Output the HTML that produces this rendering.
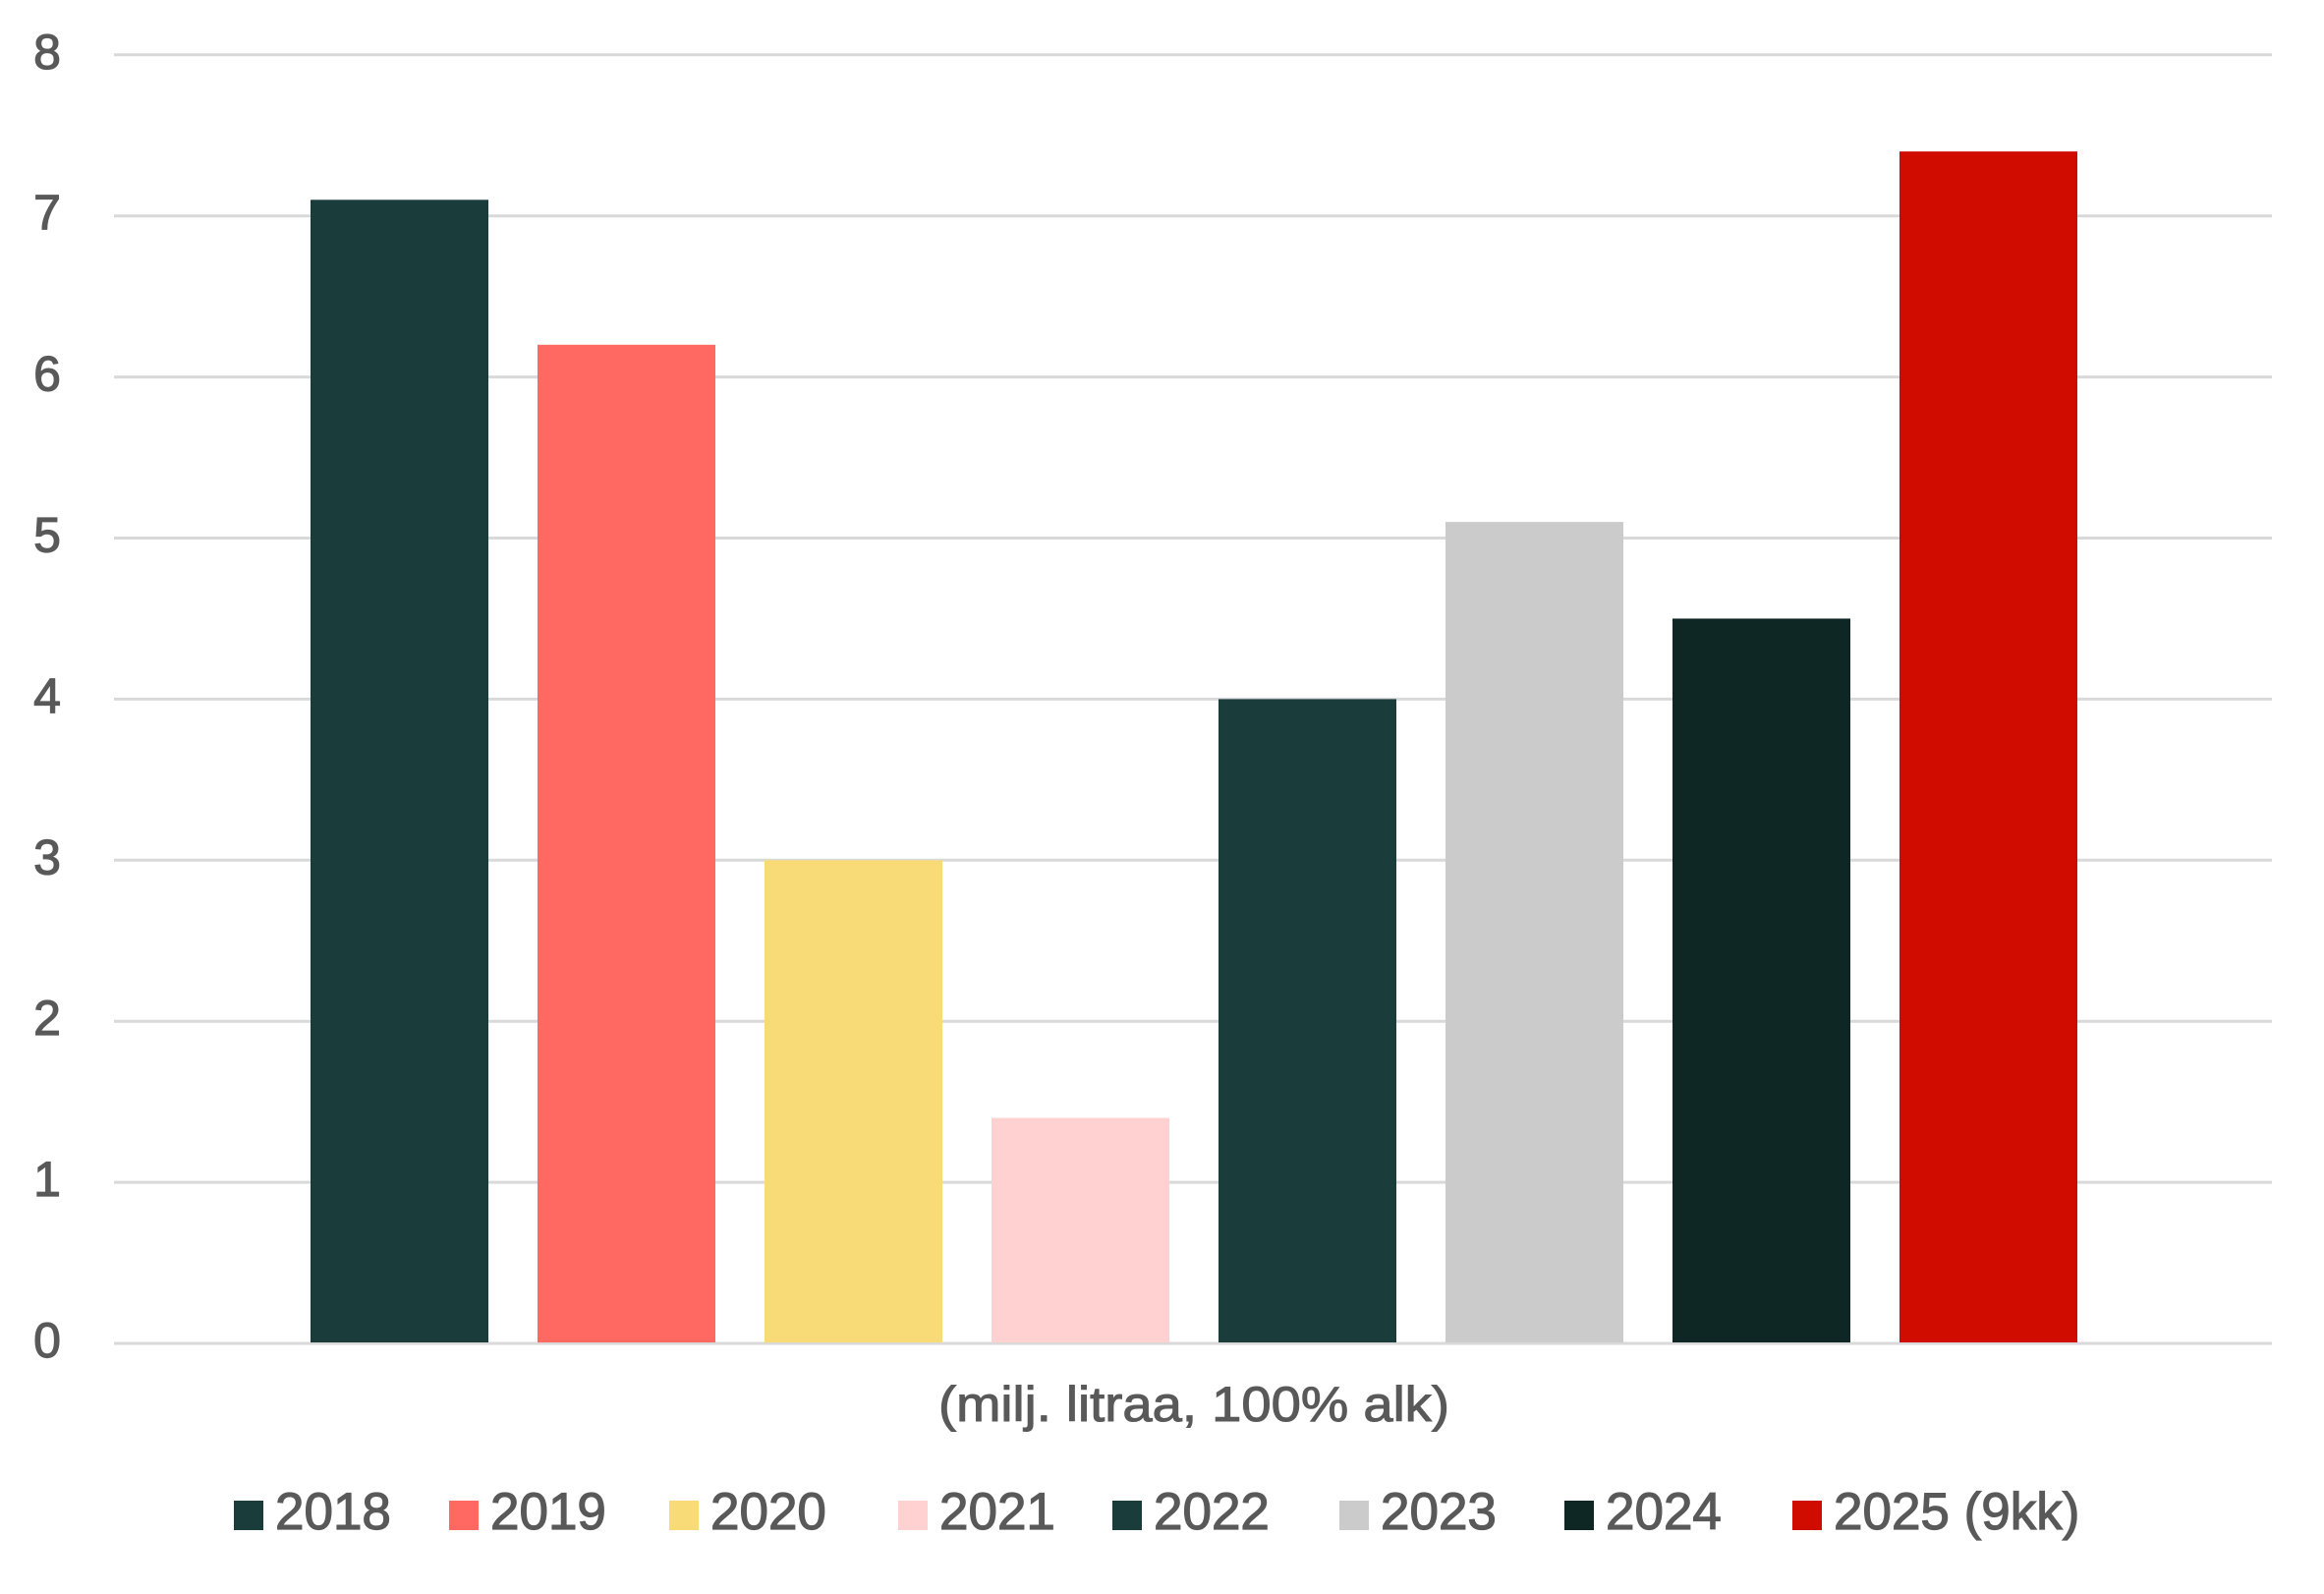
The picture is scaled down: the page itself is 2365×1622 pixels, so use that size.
<!DOCTYPE html>
<html><head><meta charset="utf-8"><style>
html,body{margin:0;padding:0;background:#fff;}
svg{display:block;font-family:"Liberation Sans",sans-serif;}
</style></head><body>
<svg id="chart" width="2365" height="1622" viewBox="0 0 2365 1622"></svg>
<script>
const categories = ["2018","2019","2020","2021","2022","2023","2024","2025 (9kk)"];
const values = [7.1, 6.2, 3.0, 1.4, 4.0, 5.1, 4.5, 7.4];
const colors = ["#1a3d3c","#ff6961","#f8da76","#ffd1d0","#1a3d3c","#cbcbcb","#0e2725","#d00c00"];
const ticks = [0,1,2,3,4,5,6,7,8];
const legendX = [238,457,681,914,1132,1363,1592,1824];

const NS="http://www.w3.org/2000/svg";
const svg=document.getElementById('chart');
const y0=1367, unit=163.9, left=116, right=2312;
function y(v){return y0 - v*unit;}
function xb(i){return 316 + i*231;}
function mk(t,a){const e=document.createElementNS(NS,t);for(const k in a)e.setAttribute(k,a[k]);svg.appendChild(e);return e;}

ticks.forEach(t=>{
  const l=mk('line',{x1:left,x2:right,y1:y(t),y2:y(t),stroke:'#d9d9d9','stroke-width':3});
  
  
  const tx=mk('text',{x:48,y:y(t)+14,'text-anchor':'middle','font-size':50,fill:'#595959',stroke:'#595959','stroke-width':1.2});
  tx.textContent=t;
  
  
});
values.forEach((v,i)=>{
  const r=mk('rect',{x:xb(i),y:y(v),width:181,height:y0-y(v)-1,fill:colors[i]});
  
  
});
const at=mk('text',{x:955,y:1446,'font-size':50,fill:'#595959',stroke:'#595959','stroke-width':1,textLength:520,lengthAdjust:'spacingAndGlyphs'});
at.textContent='(milj. litraa, 100% alk)';


categories.forEach((c,i)=>{
  const s=mk('rect',{x:legendX[i],y:1527,width:30,height:30,fill:colors[i]});
  
  
  const t=mk('text',{x:legendX[i]+42,y:1556,'font-size':53,fill:'#595959',stroke:'#595959','stroke-width':1.2});
  t.textContent=c;
  
  
});
</script>
</body></html>
